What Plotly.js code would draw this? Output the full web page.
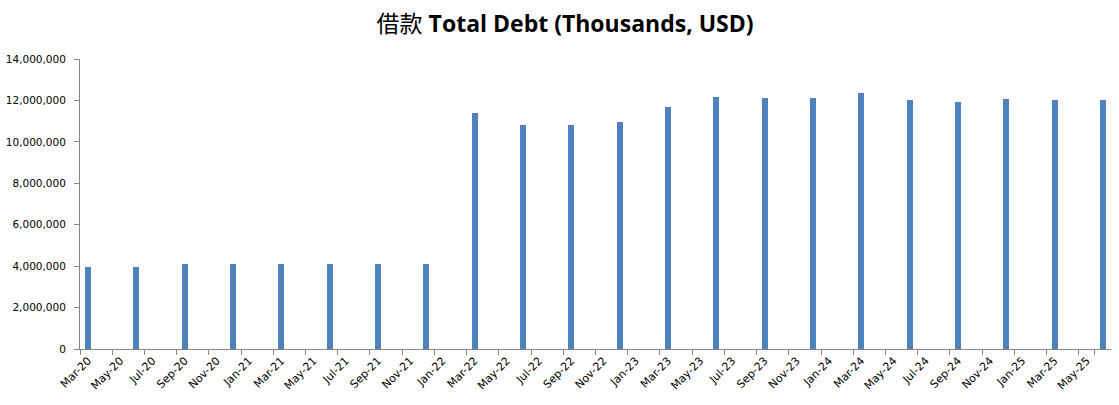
<!DOCTYPE html>
<html>
<head>
<meta charset="utf-8">
<script src="https://cdn.plot.ly/plotly-3.0.1.min.js"></script>
<style>html,body{margin:0;padding:0;background:#fff;}#chart{width:1119px;height:405px;}</style>
</head>
<body>
<div id="chart"></div>
<script>
// Quarter-end periods and Total Debt (thousands USD)
const quarters = ["Mar-20","Jun-20","Sep-20","Dec-20","Mar-21","Jun-21","Sep-21","Dec-21",
  "Mar-22","Jun-22","Sep-22","Dec-22","Mar-23","Jun-23","Sep-23","Dec-23",
  "Mar-24","Jun-24","Sep-24","Dec-24","Mar-25","Jun-25"];
const totalDebt = [3970000,3940000,4100000,4100000,4100000,4100000,4100000,4100000,
  11390000,10810000,10810000,10960000,11680000,12170000,12120000,12120000,
  12360000,12020000,11920000,12070000,12020000,12020000];
// Month categories of the date axis (Mar-20 .. Jun-25) and tick labels every 2 months
const monthNames = ["Jan","Feb","Mar","Apr","May","Jun","Jul","Aug","Sep","Oct","Nov","Dec"];
const months = [];
for (let y = 20; y <= 25; y++) {
  for (let m = 0; m < 12; m++) {
    if (y === 20 && m < 2) continue;
    if (y === 25 && m > 5) continue;
    months.push(monthNames[m] + "-" + y);
  }
}
const tickLabels = ["Mar-20","May-20","Jul-20","Sep-20","Nov-20","Jan-21","Mar-21","May-21","Jul-21","Sep-21","Nov-21",
  "Jan-22","Mar-22","May-22","Jul-22","Sep-22","Nov-22","Jan-23","Mar-23","May-23","Jul-23","Sep-23","Nov-23",
  "Jan-24","Mar-24","May-24","Jul-24","Sep-24","Nov-24","Jan-25","Mar-25","May-25"];

const trace = {
  type: "bar",
  x: quarters,
  y: totalDebt,
  width: 0.38,
  marker: {color: "#4F81BD", line: {width: 0}},
  hoverinfo: "x+y"
};

const layout = {
  width: 1119, height: 405,
  paper_bgcolor: "#ffffff", plot_bgcolor: "#ffffff",
  margin: {l: 80, r: 8, t: 59, b: 56, pad: 0},
  showlegend: false,
  title: {
    text: '<span style="font-weight:normal">借款</span> Total Debt (Thousands, USD)',
    font: {family: "Open Sans, Noto Sans CJK SC, sans-serif", size: 23, color: "#000000", weight: "bold"},
    x: 0.505, xanchor: "center", y: 0.942, yanchor: "middle"
  },
  xaxis: {
    type: "category",
    categoryorder: "array",
    categoryarray: months,
    range: [-0.5, months.length - 0.5],
    tickmode: "array",
    tickvals: tickLabels,
    ticktext: tickLabels,
    tickson: "boundaries",
    ticks: "outside", ticklen: 5, tickwidth: 1, tickcolor: "#868686",
    tickangle: -45,
    tickfont: {family: "DejaVu Sans, sans-serif", size: 11, color: "#000000"},
    showline: true, linecolor: "#868686", linewidth: 1,
    showgrid: false, zeroline: false, fixedrange: true
  },
  yaxis: {
    range: [0, 14000000],
    tickmode: "linear", tick0: 0, dtick: 2000000,
    tickformat: ",d",
    ticks: "outside", ticklen: 5, tickwidth: 1, tickcolor: "#868686",
    ticklabelstandoff: 6,
    tickfont: {family: "DejaVu Sans, sans-serif", size: 10.5, color: "#000000"},
    showline: true, linecolor: "#868686", linewidth: 1,
    showgrid: false, zeroline: false, fixedrange: true
  },
  bargap: 0
};

Plotly.newPlot("chart", [trace], layout, {displayModeBar: false, staticPlot: true});
</script>
</body>
</html>
